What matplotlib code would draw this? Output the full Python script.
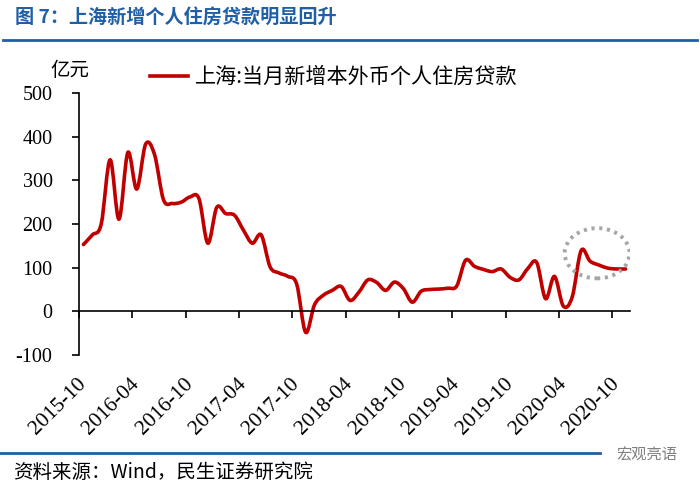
import matplotlib
matplotlib.use("Agg")
import matplotlib.pyplot as plt
import numpy as np
from matplotlib.path import Path
from matplotlib.patches import PathPatch, Ellipse
from matplotlib.lines import Line2D

plt.rcParams['font.family'] = ['Noto Sans CJK SC', 'DejaVu Sans']

# monthly data, 2015-10 .. 2020-11 (62 months), unit: 亿元
loans = [153, 175, 200, 347, 211, 364, 280, 383, 359, 256,
         247, 250, 262, 258, 156, 238, 224, 220, 186, 156,
         175, 102, 88, 80, 62, -48, 15, 37, 48, 57,
         25, 44, 72, 66, 48, 67, 52, 21, 46, 50,
         51, 53, 58, 117, 103, 96, 91, 97, 78, 72,
         98, 112, 29, 80, 12, 33, 139, 115, 106, 99,
         97, 97]
tick_labels = ['2015-10', '2016-04', '2016-10', '2017-04', '2017-10', '2018-04',
               '2018-10', '2019-04', '2019-10', '2020-04', '2020-10']
yticks = [-100, 0, 100, 200, 300, 400, 500]

red = '#C00000'
blue = '#1F5FA6'
serif = ['Liberation Serif', 'DejaVu Serif']

fig = plt.figure(figsize=(7, 4.91), dpi=100)
ax = fig.add_axes([79 / 700, 1 - 355 / 491, 551 / 700, 262 / 491])

# smoothed line (Catmull-Rom style bezier, like Excel's smoothed line)
x = np.arange(len(loans), dtype=float)
y = np.array(loans, dtype=float)
n = len(x)
verts = [(x[0], y[0])]
codes = [Path.MOVETO]
for i in range(n - 1):
    i0 = max(i - 1, 0)
    i3 = min(i + 2, n - 1)
    c1 = (x[i] + (x[i + 1] - x[i0]) / 6, y[i] + (y[i + 1] - y[i0]) / 6)
    c2 = (x[i + 1] - (x[i3] - x[i]) / 6, y[i + 1] - (y[i3] - y[i]) / 6)
    verts += [c1, c2, (x[i + 1], y[i + 1])]
    codes += [Path.CURVE4] * 3
ax.add_patch(PathPatch(Path(verts, codes), facecolor='none', edgecolor=red,
                       linewidth=2.6, capstyle='round', joinstyle='round'))

# dotted circle highlight
ax.add_patch(Ellipse((57.8, 133), 7.3, 115, facecolor='none', edgecolor='#A6A6A6',
                     linewidth=2.8, linestyle=(0, (0.8, 1.2))))

ax.set_xlim(-0.5, n - 0.5)
ax.set_ylim(-100, 500)

for s in ['top', 'right']:
    ax.spines[s].set_visible(False)
ax.spines['bottom'].set_position(('data', 0))
ax.spines['bottom'].set_linewidth(1.2)
ax.spines['left'].set_linewidth(1.2)

ax.set_yticks(yticks)
ax.set_yticklabels([str(v) for v in yticks], fontfamily=serif, fontsize=14.5)
ax.tick_params(axis='y', direction='out', length=5, width=1.2, pad=14)

ax.set_xticks(np.arange(-0.5, n, 6))
ax.set_xticklabels([])
ax.tick_params(axis='x', which='major', direction='out', length=5, width=1.2)
ax.set_xticks(np.arange(0, n, 6), tick_labels, minor=True)
ax.tick_params(axis='x', which='minor', length=0, pad=50)
for lab in ax.get_xticklabels(minor=True):
    lab.set_rotation(45)
    lab.set_rotation_mode('anchor')
    lab.set_ha('right')
    lab.set_va('center')
    lab.set_fontfamily(serif)
    lab.set_fontsize(15.5)

fig.text(50 / 700, 1 - 70 / 491, '亿元', fontsize=14, va='center', ha='left')

handle = Line2D([], [], color=red, linewidth=2.6)
fig.legend([handle], ['上海:当月新增本外币个人住房贷款'], loc='center left',
           bbox_to_anchor=(150 / 700, 1 - 77 / 491), frameon=False, fontsize=15.2,
           handlelength=1.8, handletextpad=0.35, borderpad=0, borderaxespad=0)

# header / footer
fig.text(15 / 700, 1 - 18 / 491, '图 7：上海新增个人住房贷款明显回升', fontsize=13.8,
         fontweight='bold', color=blue, va='center', ha='left')
fig.add_artist(Line2D([3 / 700, 697 / 700], [1 - 40 / 491, 1 - 40 / 491],
                      color=blue, linewidth=2))
fig.add_artist(Line2D([0, 600 / 700], [1 - 453 / 491, 1 - 453 / 491],
                      color=blue, linewidth=2))
fig.text(13 / 700, 1 - 472 / 491, '资料来源：Wind，民生证券研究院', fontsize=14,
         va='center', ha='left')
fig.text(677 / 700, 1 - 455 / 491, '宏观亮语', fontsize=11, color='#808080',
         va='center', ha='right')

fig.savefig('out.png', dpi=100)
